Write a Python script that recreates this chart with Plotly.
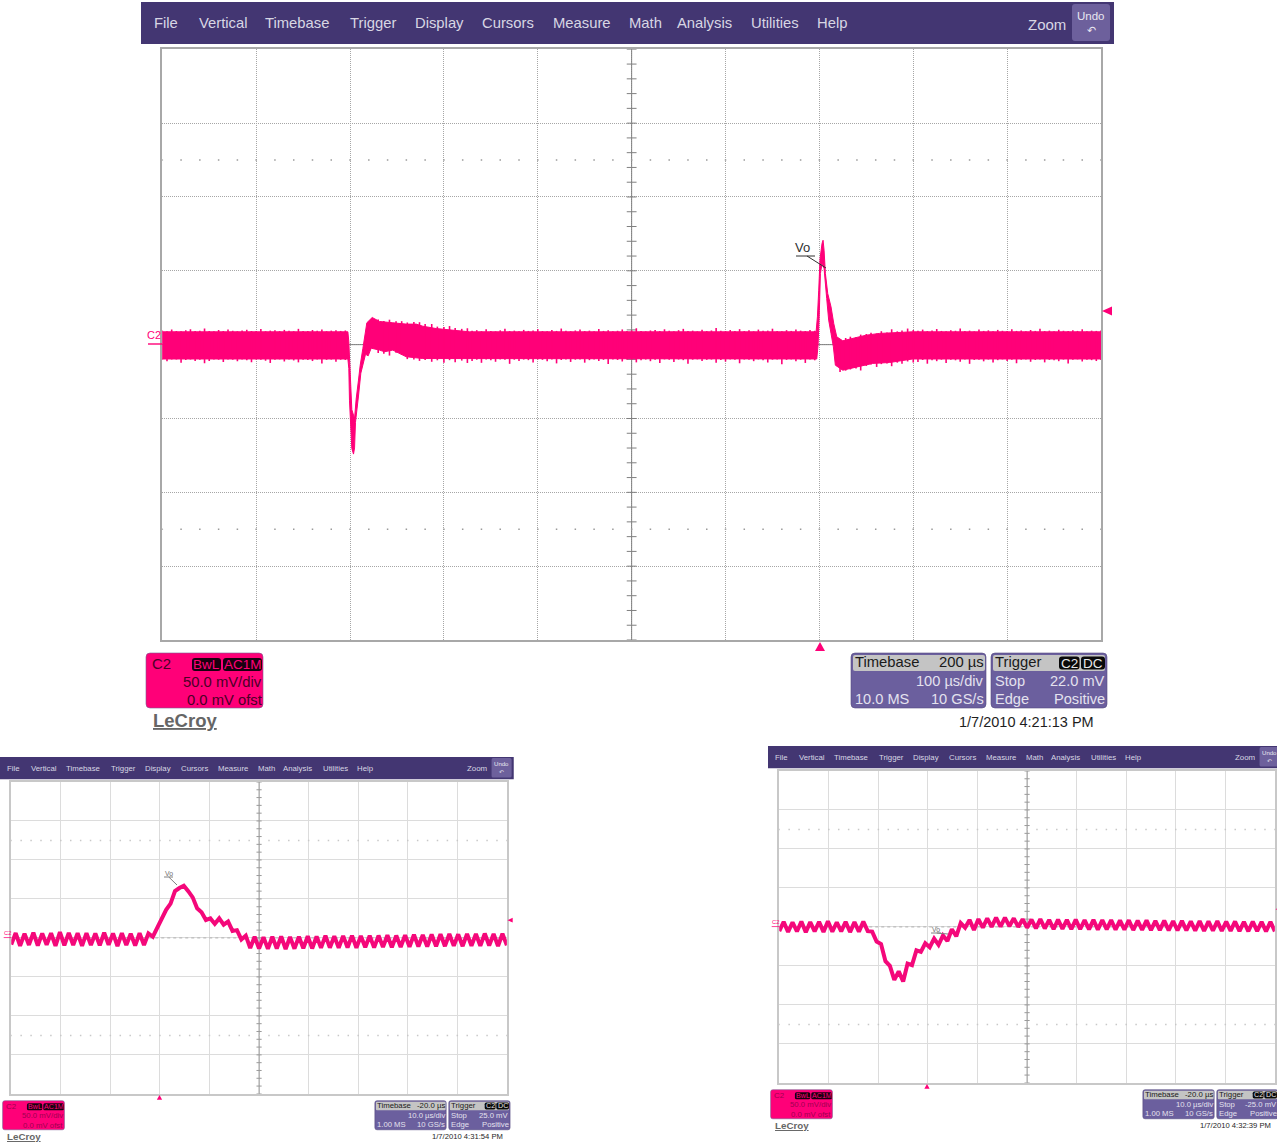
import numpy as np
import plotly.graph_objects as go

W, H = 1277, 1146
PINK = "#ff0078"
MENU = "#433672"
PANEL = "#6b5f9e"
FONT = "Liberation Sans"

menu_items = ["File", "Vertical", "Timebase", "Trigger", "Display", "Cursors", "Measure",
              "Math", "Analysis", "Utilities", "Help"]
menu_x = [153, 198, 264, 349, 414, 481, 552, 628, 676, 750, 816]

# ---- main capture: envelope of the trace, time in us relative to trigger, mV
flat_up = 8.7
flat_lo = -9.7
base_a_up = [9.6,9.1,10.2,9.3,9.0,9.8,10.4,9.2,9.4,11.0,9.3,9.1,9.9,9.2,10.3,9.4,9.0,9.6,10.1,9.2,
             9.3,10.6,9.1,9.5,9.8,9.2,10.0,9.4,9.1,10.7,9.3,9.2,9.9,9.4,10.2,9.1,9.5,9.7,9.3,9.6]
base_a_lo = [-10.2,-11.3,-10.0,-10.1,-12.2,-10.4,-10.0,-11.0,-10.2,-12.6,-11.1,-10.1,-10.3,-11.8,-10.0,-10.2,-11.2,-10.1,-10.6,-11.9,
             -10.0,-10.3,-10.9,-12.4,-10.2,-10.0,-11.4,-10.1,-10.7,-12.0,-10.2,-10.4,-11.1,-10.0,-12.8,-10.3,-10.1,-11.5,-10.2,-10.4]
dip_t_up = [-502.3,-501.3,-500.2,-499.1,-498.1,-495.2,-493.5,-491.0,-489.2,-486.3,-484.2,-482.1,-476.4,-468.6,-454.4,-440.2,-429.5,-422.5,-408.2,-372.8]
dip_v_up = [8.7,1.9,-15.0,-33.0,-44.0,-50.0,-37.0,-24.0,-14.0,-2.5,7.6,14.8,18.4,15.7,14.8,13.9,13.9,12.5,10.9,8.7]
dip_t_lo = [-502.3,-501.3,-500.6,-499.1,-498.1,-496.3,-495.2,-494.2,-492.7,-491.0,-488.5,-486.3,-483.5,-480.7,-477.5,-468.6,-463.3,-454.4,-440.2,-422.5,-404.7,-372.8]
dip_v_lo = [-9.7,-16.1,-37.6,-57.9,-70.3,-74.1,-69.9,-52.6,-42.6,-34.8,-19.3,-13.7,-6.5,-7.6,-2.4,-3.7,-4.8,-3.7,-8.2,-9.4,-9.7,-9.7]
base_b_up = [9.4,9.8,9.1,10.4,9.3,9.0,9.7,10.8,9.2,9.5,9.1,10.0,9.3,9.6,10.5,9.2,9.0,9.9,9.3,10.9,
             9.4,9.1,9.6,10.2,9.2,9.5,9.0,10.6,9.3,9.8,9.1,9.4,10.3,9.2,9.7,11.1,9.3,9.0,9.6,9.9,
             9.2,10.4,9.4,9.1,9.8,10.7,9.3,9.5,9.0,10.1,9.2,9.6,11.2,9.4,9.1,9.9,9.3,10.5,9.2,9.7,
             9.0,10.2,9.4,9.5,10.8,9.2,9.1,9.8,9.3,10.3,9.5,9.2,10.0,9.4]
base_b_lo = [-11.0,-10.2,-12.3,-10.1,-10.6,-11.6,-10.0,-10.3,-13.0,-10.2,-11.1,-10.1,-10.5,-12.1,-10.0,-10.3,-11.3,-10.1,-12.7,-10.4,
             -10.0,-11.7,-10.2,-10.1,-12.2,-10.5,-10.0,-11.0,-10.3,-13.1,-10.1,-10.4,-11.4,-10.0,-10.2,-12.0,-10.6,-10.1,-11.2,-10.3,
             -12.5,-10.0,-10.2,-11.8,-10.1,-10.5,-12.9,-10.2,-10.0,-11.1,-10.3,-10.1,-12.3,-10.4,-11.5,-10.0,-10.2,-12.6,-10.1,-10.3,
             -11.2,-10.0,-10.5,-12.1,-10.2,-10.1,-13.2,-10.3,-10.0,-11.3,-10.2,-12.4,-10.1,-10.6]
spike_t_up = [-3.5,-2.1,-0.7,0.7,2.8,3.9,5.0,6.4,8.9,12.4,15.3,18.5,24.9,35.5,49.7,63.9,81.6,99.4]
spike_v_up = [8.7,18.8,36.9,58.3,68.5,70.7,63.9,48.2,34.6,25.6,14.3,5.3,2.6,4.2,6.4,7.6,8.2,8.7]
spike_t_lo = [-2.8,-1.4,0.0,1.1,2.8,5.0,6.4,7.8,9.9,12.4,14.9,17.0,24.9,39.1,56.8,74.6,99.4]
spike_v_lo = [-9.7,-0.3,23.3,48.2,54.9,51.5,39.1,31.2,16.6,7.6,-1.5,-13.9,-17.3,-15.0,-12.7,-12.1,-9.7]
base_c_up = [9.4,10.2,9.2,9.6,10.6,9.3,9.1,9.8,9.4,10.9,9.2,9.5,9.0,10.3,9.3,9.7,9.1,10.0,9.4,9.2,
             10.5,9.3,9.6,9.1,9.9,9.3,10.7,9.2,9.5,9.0,10.1,9.4,9.2,9.8,9.3,10.4,9.1,9.5,9.3,9.6]
base_c_lo = [-11.8,-10.4,-12.9,-10.5,-11.2,-10.2,-12.4,-10.3,-10.6,-11.5,-10.1,-13.0,-10.4,-10.2,-11.3,-10.1,-12.1,-10.5,-10.0,-11.0,
             -10.3,-12.6,-10.2,-10.1,-11.6,-10.4,-10.0,-12.0,-10.3,-10.6,-11.2,-10.1,-12.7,-10.2,-10.0,-11.4,-10.3,-10.5,-11.1,-10.4]
rec1_t = [-470,-464,-458,-451,-445,-439,-432,-426,-420,-413,-407,-400,-394,-388,-381,-375]
rec1_up = [17.0,16.0,16.9,15.8,15.9,15.0,15.4,15.2,13.9,14.0,12.2,11.9,12.6,11.2,10.7,11.1]
rec1_lo = [-5.6,-6.2,-7.4,-5.5,-7.0,-9.8,-10.0,-11.0,-10.4,-11.6,-10.6,-12.2,-10.5,-12.0,-10.8,-12.4]
rec2_t = [22,28,33,39,44,50,55,61,66,72,77,83,88,94,100]
rec2_up = [3.6,4.5,5.4,5.0,6.8,7.2,8.0,7.5,9.1,8.2,10.4,9.0,9.6,10.9,9.9]
rec2_lo = [-18.6,-17.6,-16.8,-16.2,-17.5,-14.4,-13.4,-15.1,-13.2,-12.8,-14.6,-12.2,-13.0,-11.4,-12.1]

# ---- zoomed captures: ripple extremes, alternating trough / peak (mV), evenly sampled over 100 us
capture_b_ripple = [
    -8.5,6.2,-10.0,5.5,-9.0,6.8,-9.8,5.8,-8.8,6.0,-10.2,7.5,-9.4,6.4,-9.0,6.0,-10.0,6.2,-9.2,5.6,
    -9.6,6.6,-8.8,5.8,-10.4,6.0,-9.2,5.4,-9.8,6.0,-9.0,5.8,
    1.5,13,22,36,44,60,64,67,60,52,38,33,23,25,18,25,17,21,9,10,-2,3,
    -13,1.5,-13.5,1.0,-14,1.5,-13.5,1.8,-14.2,1.2,-13.8,1.5,-13.2,2.2,-13.5,2.0,-12.8,3.0,-12.5,2.2,
    -12.8,2.6,-12.2,3.0,-12.6,2.4,-12.0,2.8,-12.4,3.0,-11.8,3.4,-12.0,3.0,-11.6,3.6,-11.4,4.2,-11.0,3.8,
    -11.2,4.4,-10.8,4.8,-10.6,5.0,-10.2,4.6,-10.6,5.2,-10.0,5.0,-10.2,5.6,-9.8,5.0,-10.4,5.4,-9.6]
capture_c_ripple = [
    -5.5,6.5,-6.5,6.0,-5.8,7.0,-6.8,6.2,-5.6,6.4,-6.4,7.2,-6.0,6.0,-5.8,6.6,-6.6,6.2,-6.0,6.8,-5.4,
    -6,-18.8,-22,-44,-50,-68,-57,-70,-47,-49,-30,-32,-21,-26,-15,-23,-11,-18,-3,-12,5,-1,9,-4,10,-1,11,0,12,0.5,12,1,11,0,
    10,-1,9.5,-2,10,-2,9,-3,9.5,-2.5,9,-3,9.4,-3,8.8,-3.2,9,-3.5,8.6,-3.2,8.8,-3.6,8.4,-3.4,8.6,-4,8,-3.8,8.4,-4.2,
    7.8,-4,8,-4.4,7.6,-4.6,7.8,-4.4,7.2,-4.8,7.6,-5,7,-4.8,7.4,-5.2,6.8,-5,7,-5.4,6.6,-5.6,6.8,-5.4,6.4,-5.8,6.6,-5.6]

captures = [
    dict(ox=141, oy=2, s=1.0, t0=-700, tdiv=100, trig_px=820,
         timebase="200 µs", perdiv="100 µs/div", ms="10.0 MS", gs="10 GS/s", stop="22.0 mV",
         stamp="1/7/2010 4:21:13 PM", vo=(802, 248, 796, 256, 815, 256, 826, 268)),
    dict(ox=0, oy=757, s=0.528, t0=-30, tdiv=10, trig_px=159.5,
         timebase="-20.0 µs", perdiv="10.0 µs/div", ms="1.00 MS", gs="10 GS/s", stop="25.0 mV",
         stamp="1/7/2010 4:31:54 PM", vo=(169, 873, 164, 877, 173, 877, 177, 885)),
    dict(ox=768, oy=746, s=0.528, t0=-30, tdiv=10, trig_px=927,
         timebase="-20.0 µs", perdiv="10.0 µs/div", ms="1.00 MS", gs="10 GS/s", stop="-25.0 mV",
         stamp="1/7/2010 4:32:39 PM", vo=(936, 929, 931, 933, 941, 933, 948, 934)),
]

fig = go.Figure()
shapes, notes = [], []
fx = lambda px: px / W
fy = lambda py: 1 - py / H


def box(x0, y0, x1, y1, fill, r=0, line=None):
    a, b, c, d = fx(x0), fy(y0), fx(x1), fy(y1)
    rx, ry = r / W, r / H
    path = (f"M{a+rx},{b} L{c-rx},{b} Q{c},{b} {c},{b-ry} L{c},{d+ry} Q{c},{d} {c-rx},{d} "
            f"L{a+rx},{d} Q{a},{d} {a},{d+ry} L{a},{b-ry} Q{a},{b} {a+rx},{b} Z")
    shapes.append(dict(type="path", xref="paper", yref="paper", path=path, fillcolor=fill,
                       line=dict(width=0.6 if line else 0, color=line or fill)))


def tri(pts, fill):
    p = "M" + " L".join(f"{fx(x)},{fy(y)}" for x, y in pts) + " Z"
    shapes.append(dict(type="path", xref="paper", yref="paper", path=p, fillcolor=fill, line=dict(width=0)))


def seg(x0, y0, x1, y1, color, width=1):
    shapes.append(dict(type="line", xref="paper", yref="paper", x0=fx(x0), y0=fy(y0), x1=fx(x1), y1=fy(y1),
                       line=dict(color=color, width=width)))


def text(x, y, s, size, color, anchor="left", family=FONT, weight=None):
    notes.append(dict(x=fx(x), y=fy(y), xref="paper", yref="paper", text=s, showarrow=False,
                      xanchor=anchor, yanchor="middle", borderpad=0, align=anchor,
                      font=dict(family=family, size=size, color=color, weight=weight)))


layout_axes = {}
# solid body of the band
body_up_t = [-700.0] + dip_t_up + spike_t_up + [300.0]
body_up_v = [flat_up] + dip_v_up + spike_v_up + [flat_up]
body_lo_t = [-700.0] + dip_t_lo + spike_t_lo + [300.0]
body_lo_v = [flat_lo] + dip_v_lo + spike_v_lo + [flat_lo]
# noise stems that poke out of the band edges
stem_t = list(np.arange(-700, -505 + 1, 5)) + rec1_t + list(np.arange(-370, -5 + 1, 5)) + rec2_t + list(np.arange(105, 300 + 1, 5))
stem_up = base_a_up + rec1_up + base_b_up + rec2_up + base_c_up
stem_lo = base_a_lo + rec1_lo + base_b_lo + rec2_lo + base_c_lo
stem_x, stem_y = [], []
for t_i, u_i, l_i in zip(stem_t, stem_up, stem_lo):
    stem_x += [t_i, t_i, None]
    stem_y += [u_i, l_i, None]

for n, c in enumerate(captures):
    s, ox, oy = c["s"], c["ox"], c["oy"]
    mx = lambda x: ox + s * (x - 141)
    my = lambda y: oy + s * (y - 2)
    small = s < 1
    suffix = "" if n == 0 else str(n + 1)
    xname, yname = "x" + suffix, "y" + suffix
    left, right, top, bottom = mx(162.3), mx(1101), my(49.3), my(640)
    grid = "#dcdcdc" if small else "#a6a6a6"
    t_rng = [c["t0"], c["t0"] + 10 * c["tdiv"]]
    layout_axes["xaxis" + suffix] = dict(
        domain=[fx(left), fx(right)], range=t_rng, tick0=c["t0"], dtick=c["tdiv"], showticklabels=False,
        ticks="", showgrid=True, gridcolor=grid, griddash="solid" if small else "1px,1px", gridwidth=1.4 if small else 1,
        zeroline=False, showline=True, mirror=True, linecolor="#c8c8c8" if small else "#a8a8a8",
        linewidth=1.6, anchor=yname)
    layout_axes["yaxis" + suffix] = dict(
        domain=[fy(bottom), fy(top)], range=[-200, 200], tick0=-200, dtick=50, showticklabels=False,
        ticks="", showgrid=True, gridcolor=grid, griddash="solid" if small else "1px,1px", gridwidth=1.4 if small else 1,
        zeroline=False, showline=True, mirror=True, linecolor="#c8c8c8" if small else "#a8a8a8",
        linewidth=1.6, anchor=xname)

    centre_t = c["t0"] + 5 * c["tdiv"]
    step = c["tdiv"] / 5
    x_marks = c["t0"] + step * np.arange(0, 51)
    y_marks = -200 + 10 * np.arange(0, 41)
    axis_col = "#9a9a9a" if small else "#808080"
    # centre cross
    fig.add_trace(go.Scatter(x=[c["t0"], t_rng[1]], y=[0, 0], mode="lines", xaxis=xname, yaxis=yname,
                             line=dict(color="#b0b0b0" if small else "#808080", width=1, dash="dot" if small else "solid"),
                             hoverinfo="skip"))
    fig.add_trace(go.Scatter(x=[centre_t, centre_t], y=[-200, 200], mode="lines", xaxis=xname, yaxis=yname,
                             line=dict(color=axis_col, width=1), hoverinfo="skip"))
    fig.add_trace(go.Scatter(x=[centre_t] * len(y_marks), y=y_marks, mode="markers", xaxis=xname, yaxis=yname,
                             marker=dict(symbol="line-ew", size=7 * s, line=dict(width=1, color=axis_col)),
                             hoverinfo="skip"))
    # dotted reference rows
    for row in (125, -125):
        fig.add_trace(go.Scatter(x=x_marks, y=[row] * len(x_marks), mode="markers", xaxis=xname, yaxis=yname,
                                 marker=dict(symbol="square", size=1.5, color="#c8c8c8" if small else "#9a9a9a"),
                                 hoverinfo="skip"))
    # trace
    if n == 0:
        fig.add_trace(go.Scatter(
            x=body_up_t + body_lo_t[::-1], y=body_up_v + body_lo_v[::-1],
            mode="lines", fill="toself", fillcolor=PINK, line=dict(color=PINK, width=1),
            xaxis=xname, yaxis=yname, hoverinfo="skip"))
        fig.add_trace(go.Scatter(x=stem_x, y=stem_y, mode="lines", line=dict(color=PINK, width=1.6),
                                 connectgaps=False, xaxis=xname, yaxis=yname, hoverinfo="skip"))
    else:
        ripple = capture_b_ripple if n == 1 else capture_c_ripple
        t = np.linspace(t_rng[0], t_rng[1], len(ripple))
        fig.add_trace(go.Scatter(x=t, y=ripple, mode="lines", line=dict(color="#f4087a", width=4),
                                 xaxis=xname, yaxis=yname, hoverinfo="skip"))

    # menu bar
    box(ox, my(2), min(mx(1114), W + 5), my(44), MENU)
    menu_col = "#d8d6e4"
    for lab, xp in zip(menu_items, menu_x):
        text(mx(xp), my(23), lab, 14.8 * s, menu_col)
    text(mx(1067), my(24), "Zoom", 15 * s, menu_col, "right")
    box(mx(1072), my(4), mx(1110), my(41), "#6d609c", 3 * s)
    text(mx(1091), my(15.5), "Undo", 11.5 * s, "#e8e6f0", "center")
    text(mx(1091), my(31), "↶", 11 * s, "#e8e6f0", "center", family="DejaVu Sans")

    # side markers
    text(mx(146), my(335), "C2", 11 * s, PINK)
    seg(mx(148), my(344), mx(162), my(344), PINK, 1.4 * s)
    tri([(mx(1102), my(311)), (mx(1112), my(306.5)), (mx(1112), my(315.5))], PINK)
    tp = c["trig_px"]
    tri([(tp, my(642)), (tp - 5 * s, my(651)), (tp + 5 * s, my(651))], PINK)

    # Vo label
    vx, vy, u0, uy, u1, _, lx, ly = c["vo"]
    text(vx, vy, "Vo", 13 * s, "#303030" if not small else "#707070", "center")
    seg(u0, uy, u1, uy, "#303030" if not small else "#808080", 1)
    seg(u1 - 8 * s, uy, lx, ly, "#303030" if not small else "#808080", 1)

    # channel panel
    dark = "#4a0026" if not small else "#a00050"
    box(mx(146), my(653), mx(263), my(708), PINK, 4 * s, line="#7a5a90")
    text(mx(151), my(663), "C2", 15 * s, dark)
    box(mx(192), my(658), mx(221), my(671), "#1a0010", 3 * s)
    box(mx(223), my(658), mx(262), my(671), "#1a0010", 3 * s)
    text(mx(206.5), my(664), "BwL", 13.5 * s, PINK, "center")
    text(mx(242.5), my(664), "AC1M", 13.5 * s, PINK, "center")
    text(mx(263), my(681.5), "50.0 mV/div", 14.8 * s, dark, "right")
    text(mx(263), my(699.5), "0.0 mV ofst", 14.8 * s, dark, "right")
    text(mx(152), my(720.5), "<u>LeCroy</u>", 18.5 * s, "#666666", weight="bold")

    # timebase panel
    box(mx(851), my(653), mx(986), my(708), PANEL, 4 * s, line="#54497f")
    box(mx(853), my(655), mx(985), my(671), "#c4c4c4", 2 * s)
    text(mx(854), my(662), "Timebase", 14.8 * s, "#1a1a1a")
    text(mx(985), my(662), c["timebase"], 14.8 * s, "#1a1a1a", "right")
    text(mx(985), my(681), c["perdiv"], 14.6 * s, "#e4e2ee", "right")
    text(mx(854), my(698.5), c["ms"], 14.6 * s, "#e4e2ee")
    text(mx(985), my(698.5), c["gs"], 14.6 * s, "#e4e2ee", "right")

    # trigger panel
    box(mx(991), my(653), mx(1107), my(708), PANEL, 4 * s, line="#54497f")
    box(mx(993), my(655), mx(1105), my(671), "#c4c4c4", 2 * s)
    text(mx(994), my(662), "Trigger", 14.8 * s, "#1a1a1a")
    box(mx(1059), my(656.5), mx(1079.5), my(669.5), "#0a0a0a", 3 * s)
    box(mx(1081), my(656.5), mx(1105), my(669.5), "#0a0a0a", 3 * s)
    text(mx(1069.5), my(663), "C2", 13.5 * s, "#e8e8e8", "center")
    text(mx(1093), my(663), "DC", 13.5 * s, "#e8e8e8", "center")
    text(mx(994), my(681), "Stop", 14.6 * s, "#e4e2ee")
    text(mx(1106), my(681), c["stop"], 14.6 * s, "#e4e2ee", "right")
    text(mx(994), my(698.5), "Edge", 14.6 * s, "#e4e2ee")
    text(mx(1106), my(698.5), "Positive", 14.6 * s, "#e4e2ee", "right")

    text(mx(1095), my(721.5), c["stamp"], 14.5 * s, "#1e1e1e", "right")

fig.update_layout(width=W, height=H, margin=dict(l=0, r=0, t=0, b=0), autosize=False,
                  paper_bgcolor="white", plot_bgcolor="white", showlegend=False,
                  shapes=shapes, annotations=notes, font=dict(family=FONT), **layout_axes)
fig.write_html("out.html", config=dict(displayModeBar=False),
               post_script="document.body.style.margin='0';document.body.style.overflow='hidden';")
